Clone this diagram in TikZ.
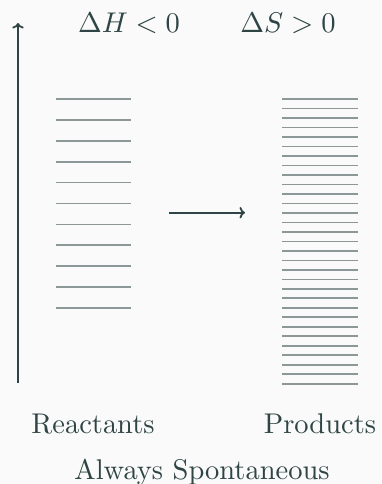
\documentclass[tikz,border=0pt]{standalone}
\usetikzlibrary{arrows.meta}
\definecolor{ink}{HTML}{2F4444}
\definecolor{lvl}{HTML}{8C9898}
\definecolor{bg}{HTML}{FAFAFA}
\begin{document}
\begin{tikzpicture}[x=1bp,y=-1bp,
  lab/.style={text=ink,font=\normalsize,inner sep=0pt,anchor=base,transform shape,scale=2.86},
  level/.style={draw=lvl,line width=1.6bp},
  axis/.style={draw=ink,line width=1.8bp,-{To[length=5.5bp,width=11.5bp]}}]
\fill[bg] (0,0) rectangle (381,484);
\useasboundingbox (0,0) rectangle (381,484);
\coordinate (ybot) at (18,383);
\coordinate (ytop) at (18,23);
\draw[axis] (ybot) -- (ytop);
\coordinate (rs) at (169,212.7);
\coordinate (re) at (245,212.7);
\draw[axis] (rs) -- (re);
\foreach \i in {0,...,10}{
  \draw[level] (55.5,{99.3+20.84*\i}) -- (131.3,{99.3+20.84*\i});
}
\foreach \i in {0,...,30}{
  \draw[level] (282.3,{99+9.49*\i}) -- (358,{99+9.49*\i});
}
\coordinate (pdh) at (129,32.3);
\coordinate (pds) at (288,32.3);
\coordinate (pre) at (93,433);
\coordinate (ppr) at (320,433);
\coordinate (psp) at (202,479);
\node[lab] (dh) at (pdh) {$\Delta H<0$};
\node[lab] (ds) at (pds) {$\Delta S>0$};
\node[lab] (react) at (pre) {Reactants};
\node[lab] (prod) at (ppr) {Products};
\node[lab] (spont) at (psp) {Always Spontaneous};
\end{tikzpicture}
\end{document}
